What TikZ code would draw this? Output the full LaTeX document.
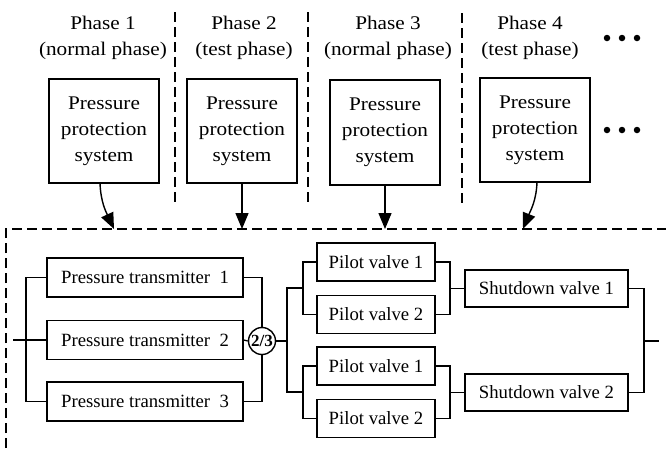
\documentclass[tikz,border=0pt]{standalone}
\usepackage{fontspec}
\setmainfont{Liberation Serif}
\newfontfamily\widefont[FakeStretch=1.1]{Liberation Serif}
\usetikzlibrary{arrows.meta}
\begin{document}
\begin{tikzpicture}[x=1pt,y=-1pt,
  topbox/.style={draw,line width=1.6pt,minimum width=110pt,minimum height=104pt,inner sep=0pt,align=center,font=\widefont\fontsize{19.3}{26}\selectfont},
  phaselbl/.style={align=center,inner sep=0pt,font=\widefont\fontsize{19.3}{25.5}\selectfont},
  compbox/.style={draw,line width=1.5pt,inner sep=0pt,font=\fontsize{18.7}{22}\selectfont},
  conn/.style={line width=1.3pt},
  dashsep/.style={line width=1.3pt,dash pattern=on 10pt off 5pt},
  bigarrow/.style={line width=1.4pt,-{Triangle[length=16pt,width=13pt]}},
  dotmark/.style={circle,fill,inner sep=0pt,minimum size=6.5pt}
]
\useasboundingbox (0,0) rectangle (666,448);

% phase labels
\node[phaselbl] (l1) at (103,38) {Phase 1\\(normal phase)};
\node[phaselbl] (l2) at (244,38) {Phase 2\\(test phase)};
\node[phaselbl] (l3) at (388,38) {Phase 3\\(normal phase)};
\node[phaselbl] (l4) at (530,38) {Phase 4\\(test phase)};

% dots
\foreach \x/\n in {607/a,622/b,637/c}{
  \node[dotmark] (dt\n) at (\x,38) {};
  \node[dotmark] (db\n) at (\x,130) {};
}

% separators
\draw[dashsep] (175,12) -- (175,205);
\draw[dashsep] (308,12) -- (308,205);
\draw[dashsep] (462,13) -- (462,206);

% phase boxes
\node[topbox] (b1) at (104,131) {Pressure\\protection\\system};
\node[topbox] (b2) at (242,131) {Pressure\\protection\\system};
\node[topbox,minimum height=105pt] (b3) at (385,132.5) {Pressure\\protection\\system};
\node[topbox] (b4) at (535,130) {Pressure\\protection\\system};

% dashed frame
\coordinate (fbl) at (6,448);
\coordinate (ftl) at (6,229);
\coordinate (ftr) at (666,229);
\draw[dashsep] (fbl) -- (ftl) -- (ftr);

\coordinate (c1) at (114,229);
\coordinate (c2) at (242,229);
\coordinate (c3) at (385,229);
\coordinate (c4) at (523,229);
\coordinate (s1) at (100,183);
\coordinate (s4) at (537,182);
\draw[bigarrow] (s1) to[out=-88,in=115] (c1);
\draw[bigarrow] (b2.south) -- (c2);
\draw[bigarrow] (b3.south) -- (c3);
\draw[bigarrow] (s4) to[out=-92,in=68] (c4);

% pressure transmitters
\node[compbox,minimum width=196pt,minimum height=39pt] (pt1) at (145,277.5) {Pressure transmitter\hspace{0.5em}1};
\node[compbox,minimum width=196pt,minimum height=39pt] (pt2) at (145,340) {Pressure transmitter\hspace{0.5em}2};
\node[compbox,minimum width=196pt,minimum height=39pt] (pt3) at (145,401.5) {Pressure transmitter\hspace{0.5em}3};

\node[draw,circle,line width=1.4pt,minimum size=27pt,inner sep=0pt,font=\fontsize{17}{17}\selectfont\bfseries] (tv) at (262,341) {2/3};

% pilot valves
\node[compbox,minimum width=118pt,minimum height=38pt] (pv1a) at (376,262) {Pilot valve 1};
\node[compbox,minimum width=118pt,minimum height=38pt] (pv2a) at (376,314.5) {Pilot valve 2};
\node[compbox,minimum width=118pt,minimum height=38pt] (pv1b) at (376,366) {Pilot valve 1};
\node[compbox,minimum width=118pt,minimum height=38pt] (pv2b) at (376,418.5) {Pilot valve 2};

% shutdown valves
\node[compbox,minimum width=163pt,minimum height=37pt] (sv1) at (546.5,288.5) {Shutdown valve 1};
\node[compbox,minimum width=163pt,minimum height=37pt] (sv2) at (546.5,392.5) {Shutdown valve 2};

% connectors
\coordinate (in0) at (13,340);
\coordinate (ib) at (26,340);
\draw[conn] (pt1.west) -| (ib) |- (pt3.west);
\draw[conn] (in0) -- (pt2.west);
\draw[conn] (pt1.east) -| (tv.north);
\draw[conn] (pt3.east) -| (tv.south);
\draw[conn] (pt2.east) -- (tv.west);

\coordinate (j1) at (287,341);
\coordinate (ja) at (303,288);
\coordinate (jb) at (303,392);
\draw[conn] (tv.east) -- (j1);
\draw[conn] (ja) -| (j1) |- (jb);
\draw[conn] (pv1a.west) -| (ja) |- (pv2a.west);
\draw[conn] (pv1b.west) -| (jb) |- (pv2b.west);

\coordinate (ka) at (450,288.5);
\coordinate (kb) at (450,392.5);
\draw[conn] (pv1a.east) -| (ka) |- (pv2a.east);
\draw[conn] (pv1b.east) -| (kb) |- (pv2b.east);
\draw[conn] (ka) -- (sv1.west);
\draw[conn] (kb) -- (sv2.west);

\coordinate (ob) at (644,341);
\coordinate (oend) at (659,341);
\draw[conn] (sv1.east) -| (ob) |- (sv2.east);
\draw[conn] (ob) -- (oend);
\end{tikzpicture}
\end{document}
